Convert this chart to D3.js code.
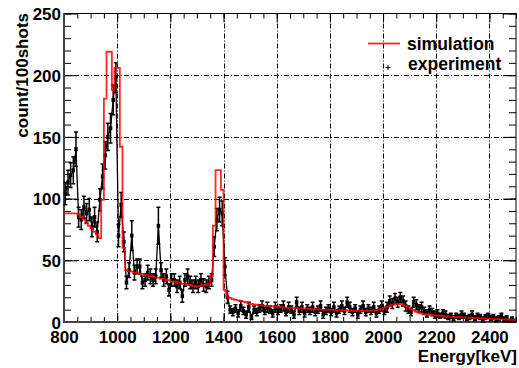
<!DOCTYPE html>
<html>
<head>
<meta charset="utf-8">
<script src="https://cdn.jsdelivr.net/npm/d3@7"></script>
<style>
  body { margin: 0; background: #fff; }
  text { font-family: "Liberation Sans", Arial, sans-serif; font-weight: bold; fill: #000; }
</style>
</head>
<body>
<svg id="chart" width="519" height="368"></svg>
<script>
// histogram bins: 10 keV wide, starting at 800 keV
const binStart = 800;
const binWidth = 10;

// experiment (count/100shots), one value per bin
const expValues = [
  104, 113, 119, 123, 140, 85, 83, 93, 88, 91,     // 800
  77, 85, 73, 99, 118, 135, 150, 157, 180, 198,    // 900
  70, 95, 65, 32, 42, 70, 40, 45, 45, 32,          // 1000
  34, 40, 37, 34, 37, 78, 42, 34, 37, 26,          // 1100
  34, 34, 29, 32, 21, 34, 37, 32, 29, 32,          // 1200
  29, 34, 30, 29, 32, 34, 61, 83, 91, 88,          // 1300
  45, 20, 10, 8, 11, 7, 13, 9, 6, 12,              // 1400
  4, 10, 8, 11, 13, 9, 12, 10, 7, 12,              // 1500
  9, 11, 13, 8, 12, 10, 6, 16, 9, 12,              // 1600
  7, 11, 9, 12, 8, 10, 13, 6, 9, 11,               // 1700
  8, 12, 7, 10, 13, 9, 16, 12, 8, 11,              // 1800
  6, 10, 13, 8, 11, 9, 12, 7, 10, 13,              // 1900
  9, 12, 17, 15, 19, 16, 20, 17, 13, 10,           // 2000
  8, 16, 14, 11, 12, 9, 7, 10, 8, 6,               // 2100
  7, 5, 7, 6, 4, 5, 3, 5, 4, 6,                    // 2200
  5, 3, 4, 6, 3, 5, 4, 2, 4, 5,                    // 2300
  3, 4, 2, 3, 5, 2, 3, 1, 2, 1                     // 2400
];

const expErrors = [
  9, 10, 10, 11, 14, 8, 8, 9, 8, 9,
  8, 8, 8, 9, 10, 11, 11, 12, 12, 12,
  9, 10, 8, 5, 6, 12, 6, 6, 6, 5,
  5, 6, 6, 5, 6, 15, 6, 5, 6, 5,
  5, 5, 5, 5, 5, 5, 6, 5, 5, 5,
  5, 5, 5, 5, 5, 5, 8, 9, 10, 10,
  7, 5, 3, 3, 3, 3, 4, 3, 3, 4,
  2, 3, 3, 3, 4, 3, 4, 3, 3, 4,
  3, 3, 4, 3, 4, 3, 3, 4, 3, 4,
  3, 3, 3, 4, 3, 3, 4, 3, 3, 3,
  3, 4, 3, 3, 4, 3, 4, 4, 3, 3,
  3, 3, 4, 3, 3, 3, 4, 3, 3, 4,
  3, 4, 4, 4, 4, 4, 4, 4, 4, 3,
  3, 4, 4, 3, 4, 3, 3, 3, 3, 3,
  3, 2, 3, 3, 2, 2, 2, 2, 2, 3,
  2, 2, 2, 3, 2, 2, 2, 2, 2, 2,
  2, 2, 2, 2, 2, 2, 2, 1, 2, 1
];

// simulation, same binning
const simValues = [
  88, 88, 88, 88, 88, 87, 85, 83, 80, 78,
  76, 73, 71, 68, 99, 181, 219, 219, 188, 206,
  206, 142, 60, 42, 41, 41, 40, 40, 39, 39,
  38, 38, 37, 37, 36, 36, 35, 35, 34, 34,
  33, 33, 32, 32, 31, 31, 30, 30, 29, 29,
  29, 29, 30, 30, 31, 37, 78, 123, 123, 107,
  26, 20, 19.5, 18.5, 18, 17.5, 17, 16.5, 16, 15,
  14.6, 14.3, 14, 13.7, 13.5, 13.2, 13, 12.8, 12.6, 12.4,
  12.2, 12, 11.8, 11.6, 11.5, 11.4, 11.3, 11.2, 11, 10.9,
  10.8, 10.7, 10.6, 10.5, 10.4, 10.3, 10.2, 10.1, 10, 10,
  9.9, 9.8, 9.7, 9.6, 9.5, 9.4, 9.3, 9.2, 9.2, 9.1,
  9.1, 9, 9, 9, 9.1, 9.2, 9.4, 9.7, 10.1, 10.7,
  11.4, 12.2, 13, 13.8, 14.4, 14.7, 14.6, 14, 13, 11.8,
  10.5, 9.3, 8.3, 7.5, 6.9, 6.4, 6, 5.7, 5.5, 5.3,
  5.2, 5, 4.8, 4.6, 4.4, 4.3, 4.1, 4, 3.9, 3.8,
  3.6, 3.5, 3.4, 3.3, 3.2, 3.1, 3, 2.9, 2.8, 2.7,
  2.6, 2.5, 2.4, 2.3, 2.2, 2.1, 2, 1.9, 1.8, 1.7
];

const xTicks = [800, 1000, 1200, 1400, 1600, 1800, 2000, 2200, 2400];
const yTicks = [0, 50, 100, 150, 200, 250];
const xMinor = d3.range(800, 2501, 50);
const yMinor = d3.range(0, 251, 10);

const svg = d3.select("#chart");

const x = d3.scaleLinear().domain([800, 2500]).range([64, 516]);
const y = d3.scaleLinear().domain([0, 250]).range([322, 13.5]);
const [x0, x1] = x.range();
const [y0, y1] = y.range();

// grid (dash-dot like ROOT)
const grid = svg.append("g").attr("stroke", "#000").attr("stroke-width", 1)
  .attr("stroke-dasharray", "5,2,1,2");
grid.selectAll(".gx").data(xTicks.filter(d => d > 800)).join("line")
  .attr("x1", d => Math.round(x(d)) + 0.5).attr("x2", d => Math.round(x(d)) + 0.5)
  .attr("y1", y1).attr("y2", y0);
grid.selectAll(".gy").data(yTicks.filter(d => d > 0 && d < 250)).join("line")
  .attr("y1", d => Math.round(y(d)) + 0.5).attr("y2", d => Math.round(y(d)) + 0.5)
  .attr("x1", x0).attr("x2", x1);

// axes, ticks inside the frame
const axis = (gen, tx, ty) => {
  const g = svg.append("g").attr("transform", `translate(${tx},${ty})`).call(gen);
  g.select(".domain").remove();
  g.selectAll("line").attr("stroke", "#000");
  return g;
};

const fmt = d3.format("d");
const bottom = axis(d3.axisBottom(x).tickValues(xTicks).tickSize(-9).tickPadding(9).tickFormat(fmt), 0, y0);
axis(d3.axisBottom(x).tickValues(xMinor).tickSize(-5).tickFormat(""), 0, y0);
axis(d3.axisTop(x).tickValues(xTicks).tickSize(-9).tickFormat(""), 0, y1);
axis(d3.axisTop(x).tickValues(xMinor).tickSize(-5).tickFormat(""), 0, y1);
const left = axis(d3.axisLeft(y).tickValues(yTicks).tickSize(-13).tickPadding(3).tickFormat(fmt), x0, 0);
axis(d3.axisLeft(y).tickValues(yMinor).tickSize(-7).tickFormat(""), x0, 0);
axis(d3.axisRight(y).tickValues(yTicks).tickSize(-13).tickFormat(""), x1, 0);
axis(d3.axisRight(y).tickValues(yMinor).tickSize(-7).tickFormat(""), x1, 0);

bottom.selectAll("text").style("font-size", "17px")
  .style("font-family", "'Liberation Sans', Arial, sans-serif").style("font-weight", "bold");
left.selectAll("text").style("font-size", "17px")
  .style("font-family", "'Liberation Sans', Arial, sans-serif").style("font-weight", "bold")
  .attr("dy", "0.36em");

// frame
svg.append("rect").attr("x", x0).attr("y", y1).attr("width", x1 - x0).attr("height", y0 - y1)
  .attr("fill", "none").attr("stroke", "#000").attr("stroke-width", 1);
svg.append("path").attr("d", `M${x0},${y1}V${y0}H${x1}`)
  .attr("fill", "none").attr("stroke", "#444").attr("stroke-width", 2);

// experiment points
const exp = expValues.map((v, i) => ({
  e: binStart + binWidth * (i + 0.5), v, err: expErrors[i]
}));

const data = svg.append("g");
data.append("path")
  .datum(exp)
  .attr("d", d3.line().x(d => x(d.e)).y(d => y(d.v)))
  .attr("fill", "none").attr("stroke", "#000").attr("stroke-width", 1.3);

data.selectAll(".err").data(exp).join("path")
  .attr("d", d => {
    const cx = x(d.e), top = y(d.v + d.err), bot = y(Math.max(0, d.v - d.err));
    return `M${cx},${top}V${bot}M${cx - 2},${top}H${cx + 2}M${cx - 2},${bot}H${cx + 2}`;
  })
  .attr("fill", "none").attr("stroke", "#000").attr("stroke-width", 1.5);

data.selectAll(".mk").data(exp).join("rect")
  .attr("x", d => x(d.e) - 1.75).attr("y", d => y(d.v) - 2)
  .attr("width", 3.5).attr("height", 4).attr("fill", "#000");

// simulation step histogram
const simPts = simValues.map((v, i) => [binStart + binWidth * i, v]);
simPts.push([binStart + binWidth * simValues.length, simValues[simValues.length - 1]]);
svg.append("path")
  .datum(simPts)
  .attr("d", d3.line().x(d => x(d[0])).y(d => y(d[1])).curve(d3.curveStepAfter))
  .attr("fill", "none").attr("stroke", "#ff0000").attr("stroke-width", 1.8)
  .attr("stroke-opacity", 0.85);

// axis titles
svg.append("text")
  .attr("x", 517).attr("y", 362).attr("text-anchor", "end")
  .style("font-size", "17px").text("Energy[keV]");
svg.append("text")
  .attr("transform", "translate(28,13) rotate(-90)").attr("text-anchor", "end")
  .style("font-size", "17px").text("count/100shots");

// legend
const legend = svg.append("g");
legend.append("line").attr("x1", 368).attr("x2", 400).attr("y1", 43.5).attr("y2", 43.5)
  .attr("stroke", "#ff0000").attr("stroke-width", 1.8).attr("stroke-opacity", 0.85);
legend.append("text").attr("x", 407).attr("y", 50).style("font-size", "17.5px").text("simulation");
legend.append("path").attr("d", "M385.5,67.5H390.5M388,65V70")
  .attr("stroke", "#000").attr("stroke-width", 1);
legend.append("text").attr("x", 408).attr("y", 70).style("font-size", "17.5px").text("experiment");
</script>
</body>
</html>
